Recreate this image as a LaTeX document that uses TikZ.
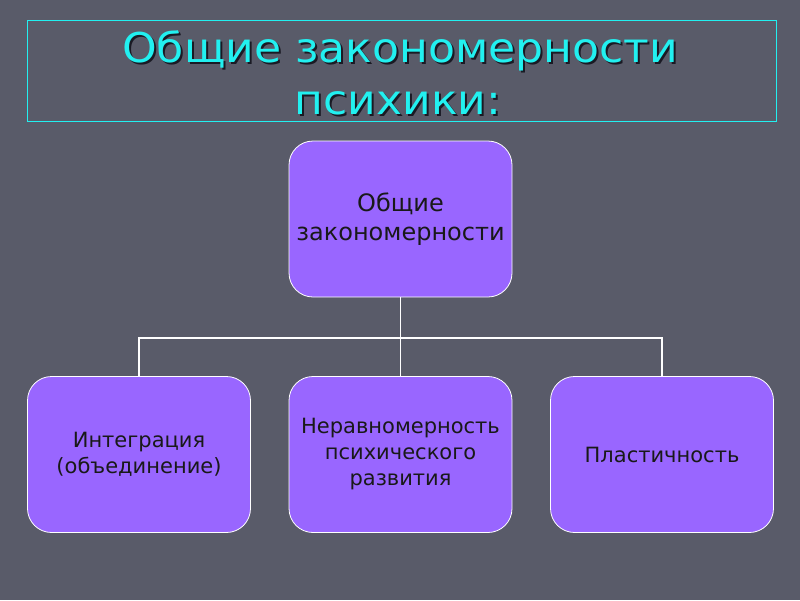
\documentclass[tikz,border=0pt]{standalone}
\usepackage{fontspec}
\setmainfont{DejaVu Sans}
\definecolor{bg}{HTML}{595B69}
\definecolor{boxfill}{HTML}{9966FF}
\definecolor{titlecyan}{HTML}{22F0F0}
\definecolor{shadowc}{HTML}{1A1A24}
\newcommand{\ttlA}{\scalebox{1.075}[1]{Общие закономерности}}
\newcommand{\ttlB}{\scalebox{1.075}[1]{психики:}}
\begin{document}
\begin{tikzpicture}[x=1pt,y=-1pt,
  box/.style={draw=white,line width=0.8pt,fill=boxfill,rounded corners=24pt,
    minimum width=223pt,minimum height=156pt,inner sep=0pt,align=center,
    font=\fontsize{21}{26}\selectfont,text=black!90},
  bigbox/.style={box,font=\fontsize{24}{29}\selectfont},
  conn/.style={draw=white,line width=1.5pt},
  ttl/.style={font=\fontsize{41}{52}\selectfont,inner sep=0pt,anchor=base}]
\fill[bg] (0,0) rectangle (800,600);
\useasboundingbox (0,0) rectangle (800,600);
\node[draw=titlecyan,line width=0.6pt,minimum width=749pt,minimum height=101pt,inner sep=0pt] (frame) at (401.5,70.5) {};
\node[ttl,text=shadowc] (t1s) at (402,64) {\ttlA};
\node[ttl,text=shadowc] (t2s) at (400,116) {\ttlB};
\node[ttl,text=titlecyan] (t1) at (400,62) {\ttlA};
\node[ttl,text=titlecyan] (t2) at (398,114) {\ttlB};
\node[bigbox] (top) at (400.5,219) {Общие\\закономерности};
\node[box] (left) at (139,454.5) {Интеграция\\(объединение)};
\node[box] (mid) at (400.5,454.5) {Неравномерность\\психического\\развития};
\node[box] (right) at (662,454.5) {Пластичность};
\coordinate (hub) at (400.5,338);
\draw[conn] (top.south) -- (hub);
\draw[conn] (left.north) |- (hub) -| (right.north);
\draw[conn] (hub) -- (mid.north);
\end{tikzpicture}
\end{document}
